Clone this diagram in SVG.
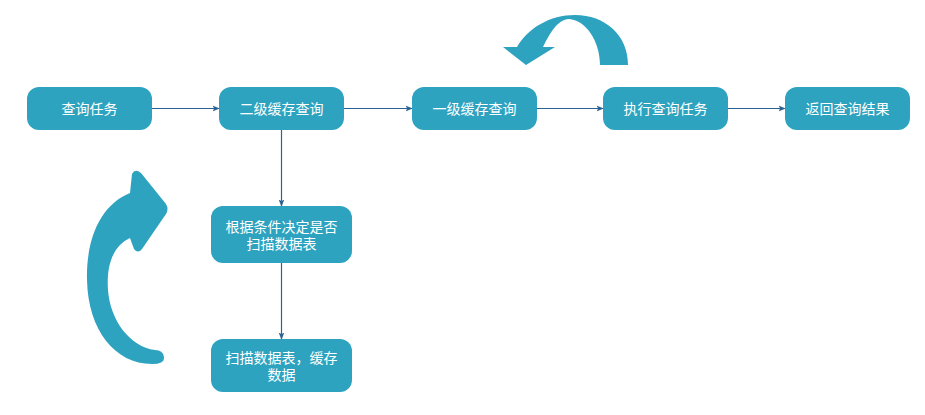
<svg xmlns="http://www.w3.org/2000/svg" width="925" height="415" viewBox="0 0 925 415">
<style>
.n{fill:#2ea3c0;}
.t{fill:#ffffff;font-family:"Liberation Sans","Noto Sans CJK SC",sans-serif;font-size:14px;text-anchor:middle;}
.c{stroke:#2b6393;stroke-width:1.2;fill:none;marker-end:url(#ah);}
.big{fill:#2ea3c0;}
</style>
<defs>
<marker id="ah" viewBox="0 0 10 10" refX="9" refY="5" markerWidth="7" markerHeight="7" markerUnits="userSpaceOnUse" orient="auto">
<path d="M0,1 L10,5 L0,9 L2,5 Z" fill="#2b6393"/>
</marker>
</defs>
<rect width="925" height="415" fill="#ffffff"/>
<g id="connectors">
<line class="c" x1="152" y1="108.5" x2="219" y2="108.5"/>
<line class="c" x1="344" y1="108.5" x2="412" y2="108.5"/>
<line class="c" x1="537" y1="108.5" x2="603" y2="108.5"/>
<line class="c" x1="728" y1="108.5" x2="785" y2="108.5"/>
<line class="c" x1="281.5" y1="130" x2="281.5" y2="206"/>
<line class="c" x1="281.5" y1="263" x2="281.5" y2="339"/>
</g>
<g id="n1"><rect class="n" x="27" y="87" width="125" height="43" rx="12"/><text class="t" x="89.5" y="113.5">查询任务</text></g>
<g id="n2"><rect class="n" x="219" y="87" width="125" height="43" rx="12"/><text class="t" x="281.5" y="113.5">二级缓存查询</text></g>
<g id="n3"><rect class="n" x="412" y="87" width="125" height="43" rx="12"/><text class="t" x="474.5" y="113.5">一级缓存查询</text></g>
<g id="n4"><rect class="n" x="603" y="87" width="125" height="43" rx="12"/><text class="t" x="665.5" y="113.5">执行查询任务</text></g>
<g id="n5"><rect class="n" x="785" y="87" width="125" height="43" rx="12"/><text class="t" x="847.5" y="113.5">返回查询结果</text></g>
<g id="n6"><rect class="n" x="211" y="206" width="141" height="57" rx="12"/><text class="t" x="281.5" y="231.5">根据条件决定是否</text><text class="t" x="281.5" y="248.5">扫描数据表</text></g>
<g id="n7"><rect class="n" x="211" y="339" width="141" height="53" rx="12"/><text class="t" x="281.5" y="363">扫描数据表，缓存</text><text class="t" x="281.5" y="380">数据</text></g>
<g id="arrow-top"><path class="big" d="M 628 65 C 628 35 605 15 575 15 C 550 15 528 28 517 47 L 503 47 L 526 65 L 555 47 L 543 47 C 550 33 558 19 569 19 C 585 20 600 40 600 65 Z"/></g>
<g id="arrow-left"><path class="big" d="M 130 193 C 100 205 86 240 87 280 C 88 330 115 364 152 364 Q 165 364 164 357 Q 163 350 155 350 C 130 347 110 320 108 290 C 106 262 115 245 130 238 L 134 249 Q 138 254 142 249 L 166 214 Q 169 209 166 204 L 141 173 Q 135 168 132 174 Z"/></g>
</svg>
